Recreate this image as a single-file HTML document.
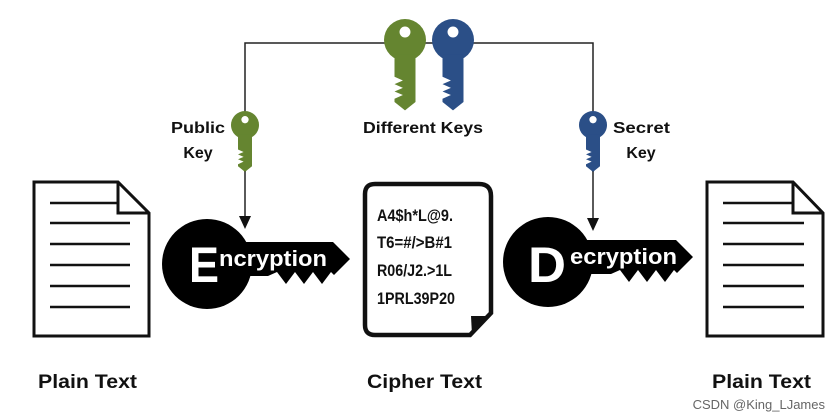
<!DOCTYPE html>
<html><head><meta charset="utf-8"><style>
html,body{margin:0;padding:0;background:#fff;}
svg{display:block}
text{font-family:"Liberation Sans",Arial,sans-serif;font-weight:bold;}
</style></head><body>
<svg width="832" height="420" viewBox="0 0 832 420" xmlns="http://www.w3.org/2000/svg">
<defs>
  <g id="key">
    <circle cx="0" cy="0" r="1"/>
    <path d="M-0.5,0.7 L0.5,0.7 L0.5,2.95 L0,3.35 L-0.5,2.95 L-0.5,2.8 L-0.1,2.62 L-0.5,2.45 L-0.1,2.28 L-0.5,2.1 L-0.1,1.93 L-0.5,1.75 Z"/>
    <circle cx="0" cy="-0.38" r="0.26" fill="#fff"/>
  </g>
</defs>

<!-- connector lines -->
<polyline points="245,172 245,43 593,43 593,172" fill="none" stroke="#222" stroke-width="1.5"/>
<line x1="245" y1="168" x2="245" y2="218" stroke="#222" stroke-width="1.5"/>
<path d="M239,216 L251,216 L245,229 Z" fill="#111"/>
<line x1="593" y1="168" x2="593" y2="218" stroke="#222" stroke-width="1.5"/>
<path d="M587,218 L599,218 L593,231 Z" fill="#111"/>

<!-- keys -->
<use href="#key" transform="translate(405,40) scale(21)" fill="#658530"/>
<use href="#key" transform="translate(453,40) scale(21)" fill="#2b4f87"/>
<use href="#key" transform="translate(245,125) scale(14)" fill="#658530"/>
<use href="#key" transform="translate(593,125) scale(14)" fill="#2b4f87"/>

<text x="363" y="133" font-size="16" fill="#111" textLength="120" lengthAdjust="spacingAndGlyphs">Different Keys</text>
<text x="171" y="133" font-size="16" fill="#111" textLength="54" lengthAdjust="spacingAndGlyphs">Public</text>
<text x="198" y="158" font-size="16" text-anchor="middle" fill="#111">Key</text>
<text x="613" y="133" font-size="16" fill="#111" textLength="57" lengthAdjust="spacingAndGlyphs">Secret</text>
<text x="641" y="158" font-size="16" text-anchor="middle" fill="#111">Key</text>

<!-- left doc -->
<g fill="none" stroke="#111" stroke-width="3">
  <path d="M34,182 L118,182 L149,213 L149,336 L34,336 Z" fill="#fff"/>
  <path d="M118,182 L118,213 L149,213"/>
  <g stroke-width="2.5">
  <line x1="50" y1="203" x2="118" y2="203"/>
  <line x1="50" y1="223" x2="130" y2="223"/>
  <line x1="50" y1="244" x2="130" y2="244"/>
  <line x1="50" y1="265" x2="130" y2="265"/>
  <line x1="50" y1="286" x2="130" y2="286"/>
  <line x1="50" y1="307" x2="130" y2="307"/>
  </g>
</g>
<!-- right doc -->
<g fill="none" stroke="#111" stroke-width="3">
  <path d="M707,182 L793,182 L823,213 L823,336 L707,336 Z" fill="#fff"/>
  <path d="M793,182 L793,213 L823,213"/>
  <g stroke-width="2.5">
  <line x1="723" y1="203" x2="793" y2="203"/>
  <line x1="723" y1="223" x2="804" y2="223"/>
  <line x1="723" y1="244" x2="804" y2="244"/>
  <line x1="723" y1="265" x2="804" y2="265"/>
  <line x1="723" y1="286" x2="804" y2="286"/>
  <line x1="723" y1="307" x2="804" y2="307"/>
  </g>
</g>

<!-- cipher doc -->
<path d="M375,184 L479,184 Q491,184 491,196 L491,313 L470,335 L375,335 Q365,335 365,325 L365,194 Q365,184 375,184 Z" fill="#fff" stroke="#111" stroke-width="4.5"/>
<path d="M471,316 L491,316 L472,335 Z" fill="#111"/>
<text x="377" y="221" font-size="16.5" fill="#111" textLength="76" lengthAdjust="spacingAndGlyphs">A4$h*L@9.</text>
<text x="377" y="248" font-size="16.5" fill="#111" textLength="75" lengthAdjust="spacingAndGlyphs">T6=#/&gt;B#1</text>
<text x="377" y="276" font-size="16.5" fill="#111" textLength="75" lengthAdjust="spacingAndGlyphs">R06/J2.&gt;1L</text>
<text x="377" y="304" font-size="16.5" fill="#111" textLength="78" lengthAdjust="spacingAndGlyphs">1PRL39P20</text>

<!-- Encryption key -->
<g fill="#000">
  <circle cx="207" cy="264" r="45"/>
  <path d="M240,242 L333,242 L350,259 L334,275 L331,272 L322,284 L313,272 L304,284 L295,272 L286,284 L277,272 L268,276 L240,276 Z"/>
</g>
<text x="189" y="282" font-size="50" fill="#fff" textLength="30" lengthAdjust="spacingAndGlyphs">E</text>
<text x="219" y="266" font-size="22" fill="#fff" textLength="108" lengthAdjust="spacingAndGlyphs">ncryption</text>

<!-- Decryption key -->
<g fill="#000">
  <circle cx="548" cy="262" r="45"/>
  <path d="M580,240 L676,240 L693,257 L677,273 L674,270 L665,282 L656,270 L647,282 L638,270 L629,282 L620,270 L611,274 L580,274 Z"/>
</g>
<text x="528" y="282" font-size="50" fill="#fff" textLength="38" lengthAdjust="spacingAndGlyphs">D</text>
<text x="570" y="264" font-size="22" fill="#fff" textLength="107" lengthAdjust="spacingAndGlyphs">ecryption</text>

<!-- labels -->
<text x="38" y="388" font-size="19" fill="#111" textLength="99" lengthAdjust="spacingAndGlyphs">Plain Text</text>
<text x="367" y="388" font-size="19" fill="#111" textLength="115" lengthAdjust="spacingAndGlyphs">Cipher Text</text>
<text x="712" y="388" font-size="19" fill="#111" textLength="99" lengthAdjust="spacingAndGlyphs">Plain Text</text>
<text x="825" y="409" font-size="13" text-anchor="end" fill="#666" style="font-weight:normal">CSDN @King_LJames</text>
</svg>
</body></html>
